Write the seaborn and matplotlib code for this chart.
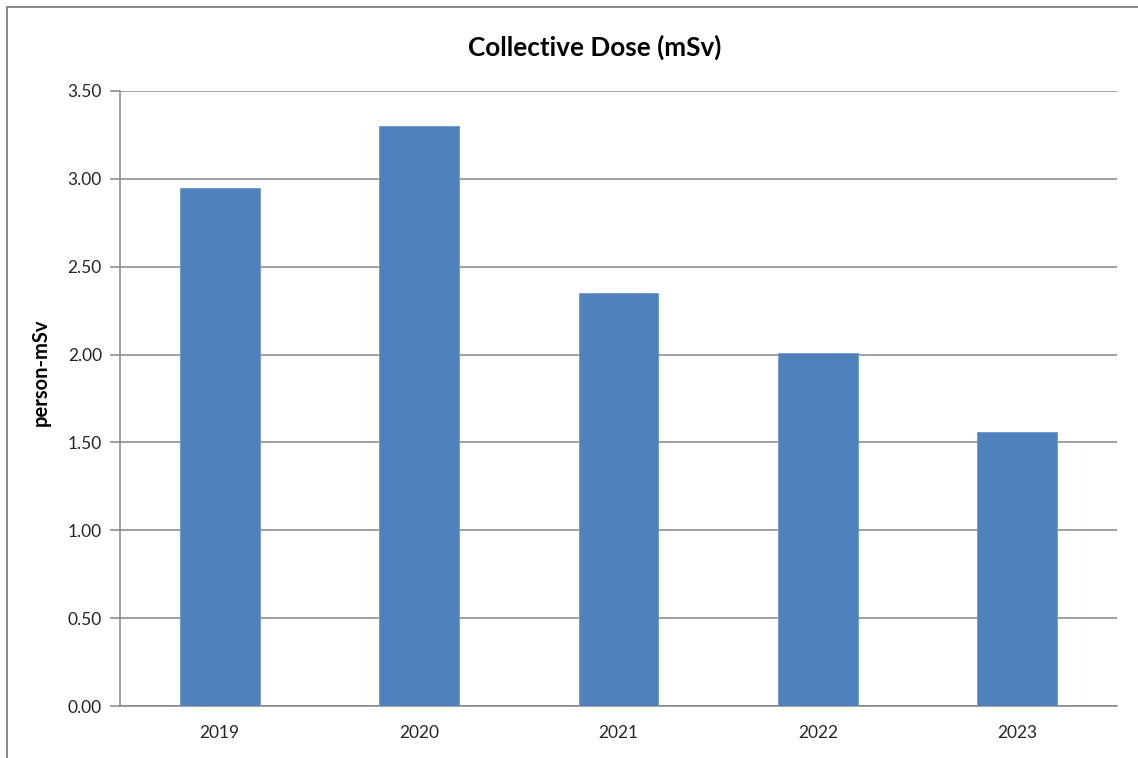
import pandas as pd
import seaborn as sns
import matplotlib.pyplot as plt
from matplotlib.lines import Line2D

years = ["2019", "2020", "2021", "2022", "2023"]
dose = [2.95, 3.30, 2.35, 2.01, 1.56]
yticks = [0.0, 0.5, 1.0, 1.5, 2.0, 2.5, 3.0, 3.5]

df = pd.DataFrame({"year": years, "dose": dose})

sns.set_style("white")
plt.rcParams["font.family"] = ["Lato", "DejaVu Sans"]

fig = plt.figure(figsize=(11.38, 7.58), dpi=100)
ax = fig.add_axes([0.1054, 0.0686, 0.876, 0.8114])

sns.barplot(data=df, x="year", y="dose", color="#4F81BD", saturation=1,
            width=0.4, ax=ax, zorder=3, linewidth=0.6, edgecolor="#6F97CC")

ax.set_xlim(-0.5, 4.5)
ax.set_ylim(0, 3.5)
ax.set_yticks(yticks)
ax.set_yticklabels([f"{v:.2f}" for v in yticks])
ax.yaxis.grid(True, color="#868686", linewidth=1.1, zorder=0)
ax.set_axisbelow(True)

ax.set_xticks(range(len(years)))
ax.set_xticklabels(years)
ax.set_xticks([i - 0.5 for i in range(len(years) + 1)], minor=True)
ax.tick_params(axis="x", which="major", length=0, pad=14, labelsize=12.5, labelcolor="#262626")
ax.tick_params(axis="x", which="minor", length=7, width=1.1, color="#868686", direction="out")
ax.tick_params(axis="y", length=7, width=1.1, color="#868686", direction="out",
               labelsize=12.5, labelcolor="#262626", pad=6, left=True)

for s in ["top", "right"]:
    ax.spines[s].set_visible(False)
for s in ["left", "bottom"]:
    ax.spines[s].set_color("#868686")
    ax.spines[s].set_linewidth(1.1)

ax.set_xlabel("")
ax.set_ylabel("")

fig.text(0.523, 0.938, "Collective Dose (mSv)", ha="center", va="center",
         fontsize=18.8, fontweight="bold", color="black")
fig.text(0.036, 0.509, "person-mSv", ha="center", va="center", rotation=90,
         fontsize=14.5, fontweight="bold", color="black")

# chart area border
fig.add_artist(Line2D([7 / 1138, 7 / 1138], [0, 1 - 7 / 758],
                      transform=fig.transFigure, color="#868686", linewidth=1.4))
fig.add_artist(Line2D([7 / 1138, 1], [1 - 7 / 758, 1 - 7 / 758],
                      transform=fig.transFigure, color="#868686", linewidth=1.4))

fig.savefig("out.png", dpi=100)
